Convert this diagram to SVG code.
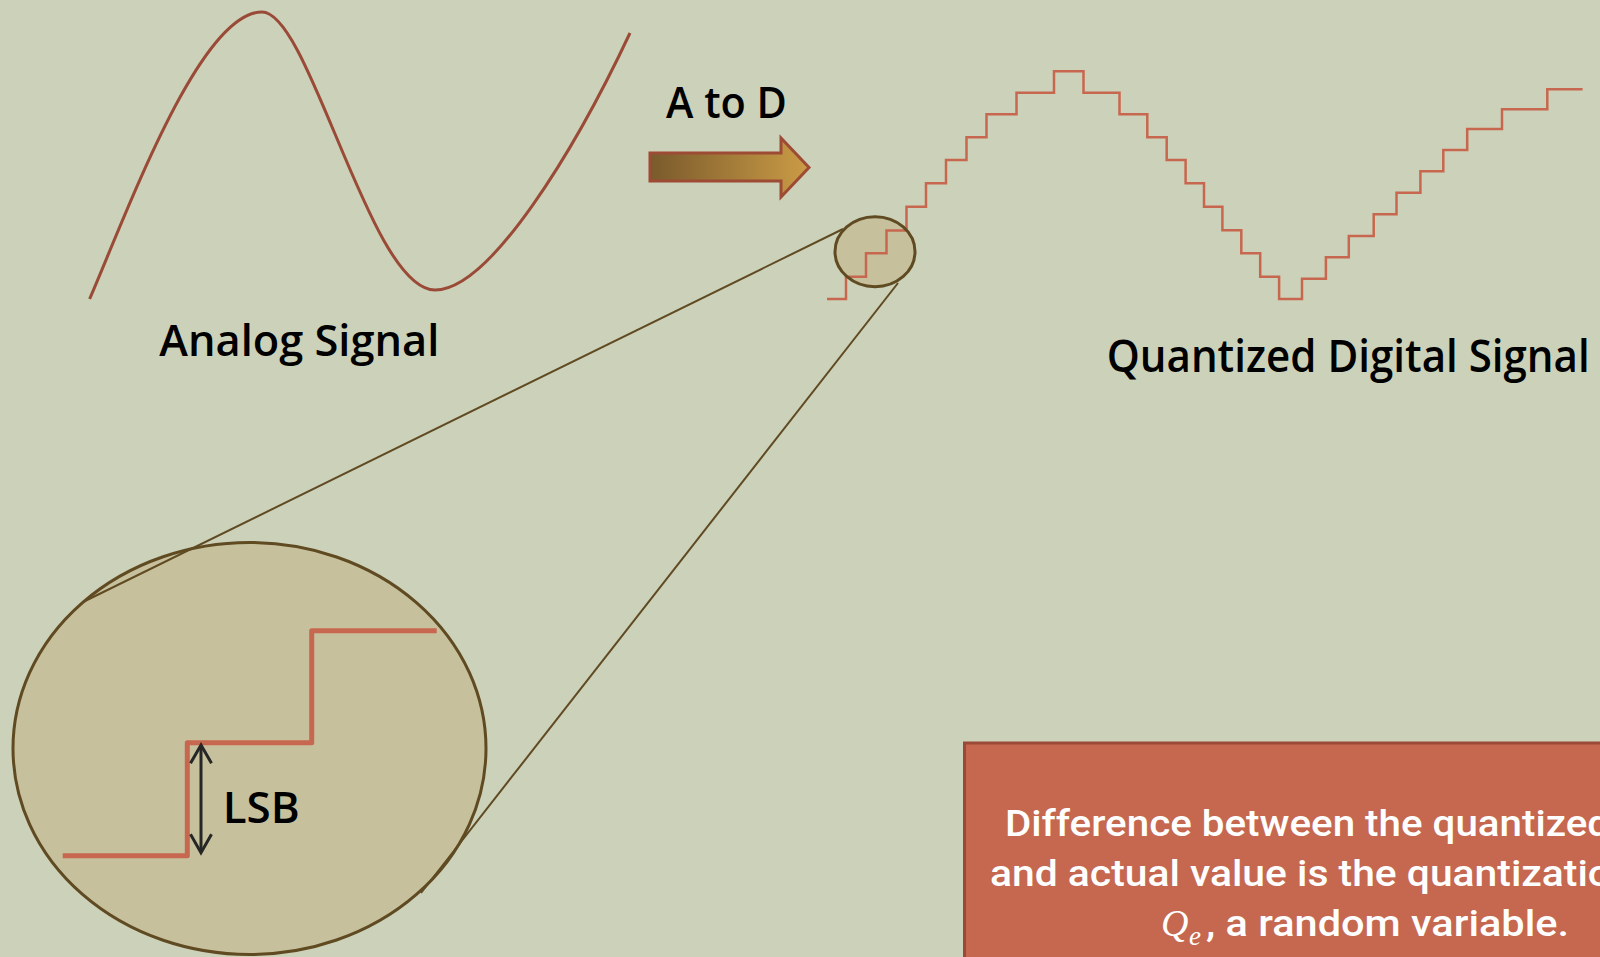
<svg xmlns="http://www.w3.org/2000/svg" width="1600" height="957" viewBox="0 0 1600 957">
<style>
.title{font-family:"Open Sans","Liberation Sans",sans-serif;font-weight:600;fill:#000}
.box{font-family:Roboto,"Liberation Sans",sans-serif;font-weight:500;font-size:36px;fill:#fff}
.math{font-family:"Liberation Serif","DejaVu Serif",serif;font-style:italic;fill:#fff}
.stair{fill:none;stroke:#C8674F;stroke-width:2.5}
.conn{fill:none;stroke:#5F4A22;stroke-width:2}
.lens{fill:#C6C19C;stroke:none}
.lensrim{fill:none;stroke:#5F4A22;stroke-width:3}
</style>
<defs>
<linearGradient id="ag" x1="0" y1="0" x2="1" y2="0">
<stop offset="0" stop-color="#7A5A2C"/>
<stop offset="1" stop-color="#CB9C46"/>
</linearGradient>
</defs>
<rect width="1600" height="957" fill="#CCD1B9"/>

<g id="analog">
<path d="M89.6,299 C128,210 200,12 262,12 C310,12 370,290 435,290 C490,290 575,150 630,33" fill="none" stroke="#9A4B37" stroke-width="3"/>
<text class="title" x="159.3" y="356" font-size="44" textLength="280" lengthAdjust="spacingAndGlyphs">Analog Signal</text>
</g>

<g id="atod">
<text class="title" x="666" y="118.3" font-size="44" textLength="121" lengthAdjust="spacingAndGlyphs">A to D</text>
<polygon points="650,153 781,153 781,138 809,167.5 781,197 781,181 650,181" fill="url(#ag)" stroke="#9E4B35" stroke-width="3"/>
</g>

<g id="lens-big">
<ellipse class="lens" cx="249.5" cy="748.5" rx="236.5" ry="206"/>
<ellipse class="lensrim" cx="249.5" cy="748.5" rx="236.5" ry="206"/>
<path d="M62.7,855.7 H187.3 V742.7 H311.7 V630.7 H436.7" fill="none" stroke="#C8674F" stroke-width="5" stroke-linejoin="round"/>
<g stroke="#262626" stroke-width="3" fill="none">
<line x1="201" y1="747" x2="201" y2="851"/>
<polyline points="190.5,763.3 201,745 211.5,763.3"/>
<polyline points="190.5,834.3 201,852.7 211.5,834.3"/>
</g>
<text class="title" x="222.7" y="823.3" font-size="43" textLength="77" lengthAdjust="spacingAndGlyphs">LSB</text>
</g>

<g id="lens-small">
<ellipse class="lens" cx="875" cy="251.7" rx="40" ry="35"/>
</g>

<g id="digital">
<path class="stair" d="M827,299 H846 V276.7 H866 V253.3 H886.5 V230.5 H906.5 V206.7 H926 V183.3 H946 V160 H966.5 V137.3 H986.5 V114.3 H1016.5 V92.7 H1054 V71.3 H1083.5 V92.7 H1119.5 V114.3 H1147.3 V137.3 H1166.7 V160 H1185.6 V183.3 H1204 V206.7 H1222.4 V230.3 H1241.3 V253.3 H1260.2 V276.7 H1279.1 V299 H1302 V278.7 H1325.9 V257.3 H1348.8 V236 H1373.7 V214.3 H1396.5 V192.7 H1420.4 V171.3 H1443.3 V150 H1467.2 V129 H1502 V109.3 H1547.3 V89.3 H1582.6"/>
<text class="title" x="1106.7" y="371.7" font-size="45" textLength="483" lengthAdjust="spacingAndGlyphs">Quantized Digital Signal</text>
</g>

<g id="lens-small-rim">
<ellipse class="lensrim" cx="875" cy="251.7" rx="40" ry="35"/>
</g>

<g id="connectors">
<line class="conn" x1="843" y1="229" x2="83" y2="602"/>
<line class="conn" x1="898" y1="283" x2="421" y2="893"/>
</g>

<g id="note">
<rect x="964.5" y="743" width="700" height="300" fill="#C5684F" stroke="#9A4A36" stroke-width="3"/>
<text class="box" x="1005" y="836" textLength="605" lengthAdjust="spacingAndGlyphs">Difference between the quantized</text>
<text class="box" x="990" y="886" textLength="621" lengthAdjust="spacingAndGlyphs">and actual value is the quantizatio</text>
<text class="math" x="1161" y="936" font-size="38">Q</text>
<text class="math" x="1189" y="945" font-size="27">e</text>
<text class="box" x="1206" y="936" textLength="363" lengthAdjust="spacingAndGlyphs">, a random variable.</text>
</g>
</svg>
